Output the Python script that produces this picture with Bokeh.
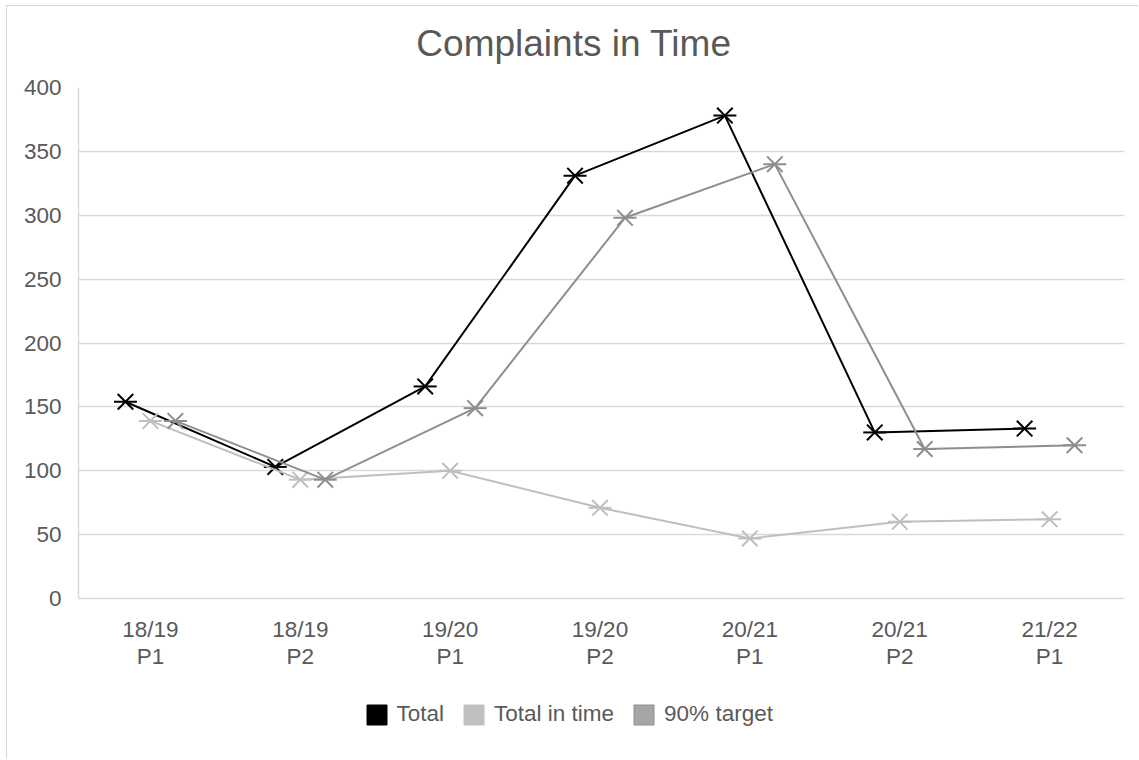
import math
from bokeh.plotting import figure
from bokeh.layouts import column
from bokeh.models import FixedTicker, Legend, LegendItem, Label, Range1d
from bokeh.embed import file_html
from bokeh.resources import INLINE

# ---- data ----
categories = ["18/19\nP1", "18/19\nP2", "19/20\nP1", "19/20\nP2",
              "20/21\nP1", "20/21\nP2", "21/22\nP1"]
total = [154, 103, 166, 331, 378, 130, 133]
total_in_time = [139, 93, 100, 71, 47, 60, 62]
target_90 = [139, 93, 149, 298, 340, 117, 120]
series_names = ["Total", "Total in time", "90% target"]
y_ticks = [0, 50, 100, 150, 200, 250, 300, 350, 400]
chart_title = "Complaints in Time"

# ---- styles ----
FONT = "Liberation Sans"
TEXT = "#595959"
GRID = "#d9d9d9"
styles = [
    dict(offset=-1/6, line="#000000", fill="#000000", edge="#000000"),
    dict(offset=0.0, line="#bfbfbf", fill="#c0c0c0", edge="#c0c0c0"),
    dict(offset=1/6, line="#8e8e8e", fill="#a5a5a5", edge="#8e8e8e"),
]

W = 1138
BL, BR = 78, 14           # left / right borders shared by all strips
H_TOP, H_MAIN, H_LEG = 73, 617, 69


def blank_fig(h):
    f = figure(width=W, height=h, x_range=Range1d(BL, W - BR), y_range=Range1d(0, h),
               output_backend="svg", toolbar_location=None,
               x_axis_location=None, y_axis_location=None,
               min_border_left=BL, min_border_right=BR,
               min_border_top=0, min_border_bottom=0)
    f.outline_line_color = None
    f.grid.visible = False
    f.background_fill_alpha = 0
    f.border_fill_alpha = 0
    return f


# ---- title strip ----
top = blank_fig(H_TOP)
top.add_layout(Label(x=573.5, y=H_TOP - 42.5, text=chart_title, text_font=FONT,
                     text_font_size="37px", text_color=TEXT,
                     text_align="center", text_baseline="alphabetic"))

# ---- main chart ----
p = figure(width=W, height=H_MAIN, x_range=Range1d(-0.48, 6.5), y_range=Range1d(0, 400),
           output_backend="svg", toolbar_location=None,
           min_border_left=BL, min_border_right=BR, min_border_top=14, min_border_bottom=92)
p.outline_line_color = None
p.background_fill_color = "white"
p.border_fill_alpha = 0
p.xgrid.visible = False
p.ygrid.grid_line_color = GRID
p.ygrid.grid_line_width = 1.5

p.yaxis.ticker = FixedTicker(ticks=y_ticks)
p.xaxis.ticker = FixedTicker(ticks=list(range(len(categories))))
p.xaxis.major_label_overrides = {i: c for i, c in enumerate(categories)}
for ax in (p.xaxis, p.yaxis):
    ax.axis_line_color = GRID
    ax.axis_line_width = 1.5
    ax.major_tick_line_color = None
    ax.minor_tick_line_color = None
    ax.major_tick_out = 0
    ax.major_tick_in = 0
    ax.major_label_text_font = FONT
    ax.major_label_text_font_size = "22.5px"
    ax.major_label_text_color = TEXT
p.yaxis.major_label_standoff = 17
p.xaxis.major_label_standoff = 18
p.xaxis.major_label_text_line_height = 1.1

# ---- legend strip ----
leg = blank_fig(H_LEG)

legend_items = []
for name, vals, st in zip(series_names, [total, total_in_time, target_90], styles):
    xs = [i + st["offset"] for i in range(len(vals))]
    p.line(xs, vals, line_color=st["line"], line_width=2)
    p.scatter(xs, vals, marker="x", size=22, line_color=st["line"], line_width=2)
    p.scatter(xs, vals, marker="dash", size=23, line_color=st["line"], line_width=2)
    q = leg.quad(left=[math.nan], right=[math.nan], bottom=[math.nan], top=[math.nan],
                 fill_color=st["fill"], line_color=st["edge"], line_width=1)
    legend_items.append(LegendItem(label=name, renderers=[q]))

legend = Legend(items=legend_items, orientation="horizontal",
                location=(285.5, H_LEG - 37),
                glyph_width=25, glyph_height=25, spacing=17, label_standoff=8,
                padding=0, margin=0, border_line_color=None, background_fill_alpha=0,
                label_text_font=FONT, label_text_font_size="22.5px", label_text_color=TEXT)
leg.add_layout(legend, "center")

# outer chart-area border (light grey, left and top edges visible in the window)
chart_bg = ("linear-gradient(#d6d6d6, #d6d6d6) 6px 5px / 1px 100% no-repeat, "
            "linear-gradient(#d6d6d6, #d6d6d6) 6px 5px / 100% 1px no-repeat, white")
layout = column(top, p, leg, spacing=0, styles={"background": chart_bg})
open("out.html", "w").write(file_html(layout, INLINE))
